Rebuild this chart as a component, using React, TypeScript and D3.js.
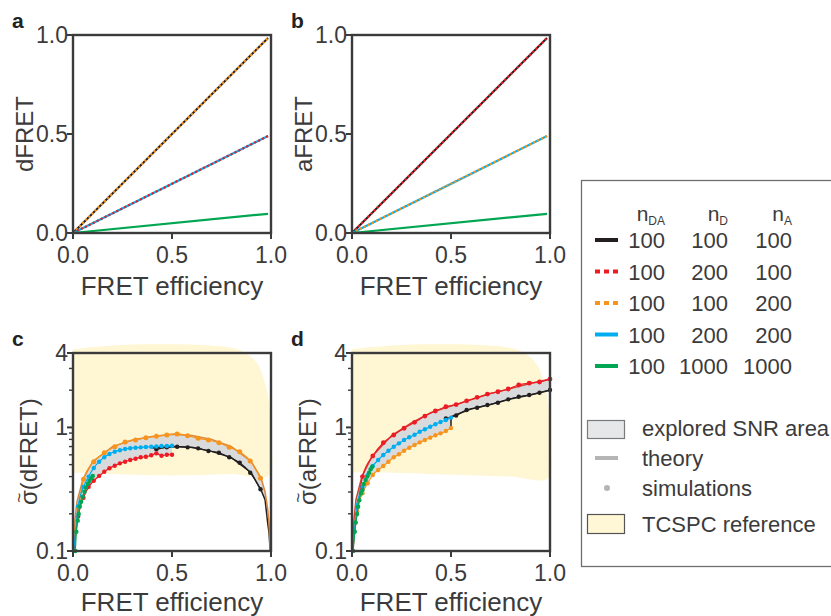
import React from "react";
import * as d3 from "d3";

const FONT = "'Liberation Sans', Arial, Helvetica, sans-serif";
const INK = "#3b3b3b";
const C = {
  black: "#231f20",
  red: "#ed1c24",
  orange: "#f7941d",
  blue: "#00aeef",
  green: "#00a651",
};

// ---- panels a / b : end points of the straight lines
const lineE = [0, 0.985];
const dfretBlack = [0, 0.985];
const dfretRed = [0, 0.49];
const dfretOrange = [0, 0.985];
const dfretBlue = [0, 0.49];
const dfretGreen = [0, 0.097];
const afretBlack = [0, 0.985];
const afretRed = [0, 0.985];
const afretOrange = [0, 0.49];
const afretBlue = [0, 0.49];
const afretGreen = [0, 0.097];

// ---- simulation grids (FRET efficiency)
const eFull = [0.053, 0.105, 0.158, 0.211, 0.263, 0.316, 0.368, 0.421, 0.474, 0.526, 0.579, 0.632, 0.684, 0.737, 0.789, 0.842, 0.895, 0.947];
const eFullEnd = [0.053, 0.105, 0.158, 0.211, 0.263, 0.316, 0.368, 0.421, 0.474, 0.526, 0.579, 0.632, 0.684, 0.737, 0.789, 0.842, 0.895, 0.947, 1.0];
const eHalf = [0.026, 0.053, 0.079, 0.105, 0.132, 0.158, 0.184, 0.211, 0.237, 0.263, 0.289, 0.316, 0.342, 0.368, 0.395, 0.421, 0.447, 0.474, 0.5];
const eTenthC = [0.012, 0.017, 0.024, 0.029, 0.034, 0.041, 0.049, 0.058, 0.066, 0.075, 0.083, 0.092, 0.1];
const eTenthD = [0.006, 0.014, 0.019, 0.026, 0.031, 0.037, 0.045, 0.053, 0.06, 0.069, 0.077, 0.086, 0.094, 0.102];

// ---- panel c : sigma(dFRET) simulations
const cOrange = [0.38, 0.528, 0.624, 0.698, 0.762, 0.791, 0.825, 0.847, 0.869, 0.885, 0.857, 0.816, 0.791, 0.752, 0.69, 0.636, 0.535, 0.387];
const cBlackE = [0.421, 0.474, 0.526, 0.579, 0.632, 0.684, 0.737, 0.789, 0.842, 0.895, 0.947];
const cBlack = [0.665, 0.69, 0.698, 0.69, 0.677, 0.644, 0.624, 0.573, 0.518, 0.43, 0.316];
const cRed = [0.19, 0.27, 0.33, 0.37, 0.405, 0.438, 0.467, 0.49, 0.512, 0.528, 0.545, 0.558, 0.573, 0.579, 0.595, 0.617, 0.59, 0.601, 0.601];
const cBlue = [0.23, 0.33, 0.4, 0.47, 0.528, 0.573, 0.609, 0.636, 0.653, 0.669, 0.678, 0.685, 0.69, 0.694, 0.698, 0.702, 0.707, 0.707, 0.711];
const cGreen = [0.1, 0.143, 0.176, 0.199, 0.228, 0.25, 0.275, 0.302, 0.327, 0.349, 0.369, 0.387, 0.405];

// panel c : theory curves and explored band
const cBlackTheoryE = [0.4, 0.5, 0.6, 0.7, 0.8, 0.9, 0.95, 0.97, 0.983, 0.99, 0.996];
const cBlackTheory = [0.68, 0.7, 0.69, 0.64, 0.57, 0.43, 0.31, 0.26, 0.17, 0.14, 0.1];
const cOrangeTheoryE = [0.004, 0.01, 0.02, 0.05, 0.1, 0.2, 0.3, 0.4, 0.5, 0.6, 0.7, 0.8, 0.9, 0.95, 0.97, 0.983, 0.99, 0.996];
const cOrangeTheory = [0.1, 0.18, 0.25, 0.38, 0.53, 0.7, 0.79, 0.845, 0.88, 0.86, 0.8, 0.7, 0.53, 0.39, 0.3, 0.22, 0.17, 0.1];
const cBandE = [0.004, 0.01, 0.02, 0.05, 0.1, 0.2, 0.3, 0.4, 0.5, 0.5, 0.6, 0.7, 0.8, 0.9, 0.95, 0.97, 0.983, 0.99, 0.996];
const cBandLow = [0.1, 0.13, 0.17, 0.27, 0.36, 0.48, 0.55, 0.59, 0.6, 0.7, 0.69, 0.64, 0.57, 0.43, 0.31, 0.26, 0.17, 0.14, 0.1];
const cBandHigh = [0.1, 0.18, 0.25, 0.38, 0.53, 0.7, 0.79, 0.845, 0.88, 0.88, 0.86, 0.8, 0.7, 0.53, 0.39, 0.3, 0.22, 0.17, 0.1];

// ---- panel d : sigma(aFRET) simulations
const dRed = [0.4, 0.587, 0.752, 0.868, 0.984, 1.099, 1.236, 1.358, 1.47, 1.53, 1.64, 1.75, 1.86, 1.944, 2.045, 2.203, 2.28, 2.33, 2.46];
const dBlackE = [0.474, 0.526, 0.579, 0.632, 0.684, 0.737, 0.789, 0.842, 0.895, 0.947, 1.0];
const dBlack = [1.18, 1.25, 1.383, 1.443, 1.518, 1.585, 1.687, 1.771, 1.828, 1.909, 2.008];
const dBlue = [0.236, 0.33, 0.41, 0.487, 0.545, 0.598, 0.648, 0.698, 0.743, 0.791, 0.832, 0.873, 0.923, 0.966, 1.013, 1.06, 1.106, 1.148, 1.2];
const dOrange = [0.21, 0.293, 0.353, 0.412, 0.452, 0.487, 0.528, 0.573, 0.606, 0.648, 0.685, 0.72, 0.757, 0.791, 0.826, 0.863, 0.895, 0.935, 0.99];
const dGreen = [0.1, 0.143, 0.17, 0.199, 0.228, 0.258, 0.293, 0.311, 0.348, 0.376, 0.4, 0.43, 0.459, 0.48];

// panel d : theory curves and explored band
const dRedTheoryE = [0.004, 0.01, 0.02, 0.05, 0.1, 0.2, 0.3, 0.4, 0.5, 0.6, 0.7, 0.8, 0.9, 1.0];
const dRedTheory = [0.1, 0.18, 0.26, 0.4, 0.58, 0.86, 1.09, 1.32, 1.49, 1.67, 1.88, 2.06, 2.27, 2.46];
const dBlackTheoryE = [0.5, 0.5, 0.6, 0.7, 0.8, 0.9, 1.0];
const dBlackTheory = [0.99, 1.22, 1.41, 1.53, 1.7, 1.83, 2.0];
const dBandE = [0.004, 0.01, 0.02, 0.05, 0.1, 0.2, 0.3, 0.4, 0.5, 0.5, 0.6, 0.7, 0.8, 0.9, 1.0];
const dBandHigh = [0.1, 0.18, 0.26, 0.4, 0.58, 0.86, 1.09, 1.32, 1.49, 1.49, 1.67, 1.88, 2.06, 2.27, 2.46];
const dBandLow = [0.1, 0.13, 0.18, 0.29, 0.41, 0.56, 0.7, 0.83, 0.99, 1.22, 1.41, 1.53, 1.7, 1.83, 2.0];

// ---- TCSPC reference region (outline, bottom-left then round)
const tcspcE = [0, 0.2, 0.4, 0.6, 0.8, 0.99, 0.995, 0.99, 0.975, 0.93, 0.845, 0.65, 0.4, 0.2, 0];
const tcspcC = [0.43, 0.42, 0.41, 0.41, 0.42, 0.41, 0.9, 1.6, 2.1, 3.3, 4.2, 4.64, 4.7, 4.6, 4.3];
const tcspcD = [0.43, 0.43, 0.42, 0.41, 0.4, 0.39, 0.9, 1.6, 2.1, 3.3, 4.2, 4.64, 4.7, 4.6, 4.3];

// ---- legend
const legendColors = [C.black, C.red, C.orange, C.blue, C.green];
const legendDotted = [false, true, true, false, false];
const legendNDA = ["100", "100", "100", "100", "100"];
const legendND = ["100", "200", "100", "200", "1000"];
const legendNA = ["100", "100", "200", "200", "1000"];

const zip = (xs: number[], ys: number[]) => xs.map((x, i) => [x, ys[i]] as [number, number]);

function YLabel({ x, y, text, tilde }: any) {
  const fs = 24;
  if (!tilde) {
    return (
      <text transform={`translate(${x},${y}) rotate(-90)`} textAnchor="middle" fontSize={fs}>{text}</text>
    );
  }
  // sigma with a tilde above it, then the rest of the label
  const w = 4.42 * fs;
  const start = -w / 2;
  return (
    <g transform={`translate(${x},${y}) rotate(-90)`}>
      <text x={start} y={0} fontSize={fs}>{"σ" + text}</text>
      <text x={start + 0.3 * fs} y={-12} fontSize={17} textAnchor="middle">~</text>
    </g>
  );
}

function Frame({ x, y, log, letter, yLabel, tilde, xLabelBase, yLabelOff }: any) {
  const [x0, x1] = x.range();
  const [y0, y1] = y.range();
  const yMajor = log ? [0.1, 1, 4] : [0, 0.5, 1];
  const yMinor = log ? [0.2, 0.3, 0.4, 0.5, 0.6, 0.7, 0.8, 0.9, 2, 3] : [];
  const fmt = log ? (v: number) => String(v) : d3.format(".1f");
  const xTicks = [0, 0.5, 1];
  return (
    <g fontFamily={FONT} fill={INK}>
      <rect x={x0} y={y1} width={x1 - x0} height={y0 - y1} fill="none" stroke={INK} strokeWidth={2.4} />
      {yMajor.map((t) => (
        <g key={"ym" + t}>
          <line x1={x0 - 6} x2={x0} y1={y(t)} y2={y(t)} stroke={INK} strokeWidth={2} />
          <text x={x0 - 5} y={y(t) + 8} textAnchor="end" fontSize={23}>{fmt(t)}</text>
        </g>
      ))}
      {yMinor.map((t) => (
        <line key={"yn" + t} x1={x0 - 4} x2={x0} y1={y(t)} y2={y(t)} stroke={INK} strokeWidth={1.4} />
      ))}
      {xTicks.map((t) => (
        <g key={"x" + t}>
          <line x1={x(t)} x2={x(t)} y1={y0} y2={y0 + 6} stroke={INK} strokeWidth={2} />
          <text x={x(t)} y={y0 + 30} textAnchor="middle" fontSize={23}>{d3.format(".1f")(t)}</text>
        </g>
      ))}
      <text x={(x0 + x1) / 2} y={xLabelBase} textAnchor="middle" fontSize={26}>FRET efficiency</text>
      <YLabel x={x0 - yLabelOff} y={(y0 + y1) / 2} text={yLabel} tilde={tilde} />
      <text x={x0 - 61} y={y1 - 7} fontSize={21} fontWeight="bold" fill="#222">{letter}</text>
    </g>
  );
}

function LinePanel({ left, letter, yLabel, pairs }: any) {
  const x = d3.scaleLinear().domain([0, 1]).range([left, left + 198]);
  const y = d3.scaleLinear().domain([0, 1]).range([233, 35]);
  const line = d3.line<[number, number]>().x((d) => x(d[0])).y((d) => y(d[1]));
  return (
    <g>
      {pairs.map((p: any, i: number) => (
        <path key={i} d={line(zip(lineE, p.v)) || ""} fill="none" stroke={p.color}
          strokeWidth={2.2} strokeDasharray={p.dotted ? "2.2 2.2" : undefined} />
      ))}
      <Frame x={x} y={y} log={false} letter={letter} yLabel={yLabel} xLabelBase={295} yLabelOff={40} />
    </g>
  );
}

function SigmaPanel({ left, letter, yLabel, tcspc, band, theories, series }: any) {
  const x = d3.scaleLinear().domain([0, 1]).range([left, left + 198]);
  const y = d3.scaleLog().domain([0.1, 4]).range([551, 353]);
  const line = d3.line<[number, number]>().x((d) => x(d[0])).y((d) => y(d[1]));
  const smooth = d3.line<[number, number]>().x((d) => x(d[0])).y((d) => y(d[1])).curve(d3.curveMonotoneX);
  const blob = d3.line<[number, number]>().x((d) => x(d[0])).y((d) => y(d[1])).curve(d3.curveCatmullRom.alpha(0.5));
  const area = d3.area<number>()
    .x((_, i) => x(band.e[i]))
    .y0((_, i) => y(band.low[i]))
    .y1((_, i) => y(band.high[i]));
  return (
    <g>
      <path d={(blob(zip(tcspcE, tcspc)) || "") + "Z"} fill="#fff6d3" stroke="none" />
      <path d={area(band.e) || ""} fill="#d9dadb" stroke="none" />
      {theories.map((t: any, i: number) => (
        <path key={"t" + i} d={line(zip(t.e, t.v)) || ""} fill="none" stroke={t.color} strokeWidth={1.5} />
      ))}
      {series.map((s: any, i: number) => {
        const pts = zip(s.e, s.v);
        const path = s.fromOrigin ? [[0.004, 0.1] as [number, number]].concat(pts) : pts;
        return (
          <g key={"s" + i}>
            <path d={smooth(path) || ""} fill="none" stroke={s.color} strokeWidth={1.2} />
            {s.e.map((e: number, j: number) => (
              <circle key={j} cx={x(e)} cy={y(s.v[j])} r={s.r} fill={s.color} />
            ))}
          </g>
        );
      })}
      <Frame x={x} y={y} log={true} letter={letter} yLabel={yLabel} tilde={true} xLabelBase={611} yLabelOff={36} />
    </g>
  );
}

function Legend() {
  const rowY = [240, 271.5, 303, 334.5, 366];
  const cols = [665, 728, 792];
  const heads = [["n", "DA"], ["n", "D"], ["n", "A"]];
  return (
    <g fontFamily={FONT} fill={INK}>
      <rect x={581.5} y={180.5} width={270} height={386} fill="#fff" stroke="#6f6f6f" strokeWidth={1.3} />
      {heads.map((h, i) => (
        <text key={i} x={cols[i]} y={221} textAnchor="end" fontSize={21}>
          {h[0]}<tspan fontSize={12} dy={4}>{h[1]}</tspan>
        </text>
      ))}
      {rowY.map((ry, i) => (
        <g key={i}>
          <line x1={595} x2={618} y1={ry} y2={ry} stroke={legendColors[i]} strokeWidth={4}
            strokeDasharray={legendDotted[i] ? "5 4" : undefined} />
          <text x={cols[0]} y={ry + 8} textAnchor="end" fontSize={22}>{legendNDA[i]}</text>
          <text x={cols[1]} y={ry + 8} textAnchor="end" fontSize={22}>{legendND[i]}</text>
          <text x={cols[2]} y={ry + 8} textAnchor="end" fontSize={22}>{legendNA[i]}</text>
        </g>
      ))}
      <rect x={587.5} y={420.5} width={37} height={18} fill="#e6e7e8" stroke="#7a7a7a" strokeWidth={1.2} />
      <text x={642} y={436} fontSize={22}>explored SNR area</text>
      <line x1={595} x2={618} y1={458} y2={458} stroke="#b5b5b5" strokeWidth={4} />
      <text x={642} y={466} fontSize={22}>theory</text>
      <circle cx={607} cy={488} r={3} fill="#b5b5b5" />
      <text x={642} y={496} fontSize={22}>simulations</text>
      <rect x={587.5} y={514.5} width={37} height={19} fill="#fff7d6" stroke="#555" strokeWidth={1.2} />
      <text x={642} y={532} fontSize={22}>TCSPC reference</text>
    </g>
  );
}

export default function App() {
  return (
    <svg width={831} height={616} style={{ position: "absolute", left: 0, top: 0, background: "#fff" }}>
      <LinePanel left={73} letter="a" yLabel="dFRET" pairs={[
        { v: dfretBlack, color: C.black },
        { v: dfretOrange, color: C.orange, dotted: true },
        { v: dfretBlue, color: C.blue },
        { v: dfretRed, color: C.red, dotted: true },
        { v: dfretGreen, color: C.green },
      ]} />
      <LinePanel left={352} letter="b" yLabel="aFRET" pairs={[
        { v: afretBlack, color: C.black },
        { v: afretRed, color: C.red, dotted: true },
        { v: afretBlue, color: C.blue },
        { v: afretOrange, color: C.orange, dotted: true },
        { v: afretGreen, color: C.green },
      ]} />
      <SigmaPanel left={73} letter="c" yLabel="(dFRET)" tcspc={tcspcC}
        band={{ e: cBandE, low: cBandLow, high: cBandHigh }}
        theories={[
          { e: cBlackTheoryE, v: cBlackTheory, color: C.black },
          { e: cOrangeTheoryE, v: cOrangeTheory, color: "#d9863a" },
        ]}
        series={[
          { e: cBlackE, v: cBlack, color: C.black, r: 2.2 },
          { e: eFull, v: cOrange, color: C.orange, r: 2.5, fromOrigin: true },
          { e: eHalf, v: cRed, color: C.red, r: 2.2, fromOrigin: true },
          { e: eHalf, v: cBlue, color: C.blue, r: 2.2, fromOrigin: true },
          { e: eTenthC, v: cGreen, color: C.green, r: 2.2 },
        ]} />
      <SigmaPanel left={352} letter="d" yLabel="(aFRET)" tcspc={tcspcD}
        band={{ e: dBandE, low: dBandLow, high: dBandHigh }}
        theories={[
          { e: dBlackTheoryE, v: dBlackTheory, color: C.black },
          { e: dRedTheoryE, v: dRedTheory, color: "#d0453a" },
        ]}
        series={[
          { e: dBlackE, v: dBlack, color: C.black, r: 2.2 },
          { e: eFullEnd, v: dRed, color: C.red, r: 2.4, fromOrigin: true },
          { e: eHalf, v: dOrange, color: C.orange, r: 2.2, fromOrigin: true },
          { e: eHalf, v: dBlue, color: C.blue, r: 2.2, fromOrigin: true },
          { e: eTenthD, v: dGreen, color: C.green, r: 2.2 },
        ]} />
      <Legend />
    </svg>
  );
}
